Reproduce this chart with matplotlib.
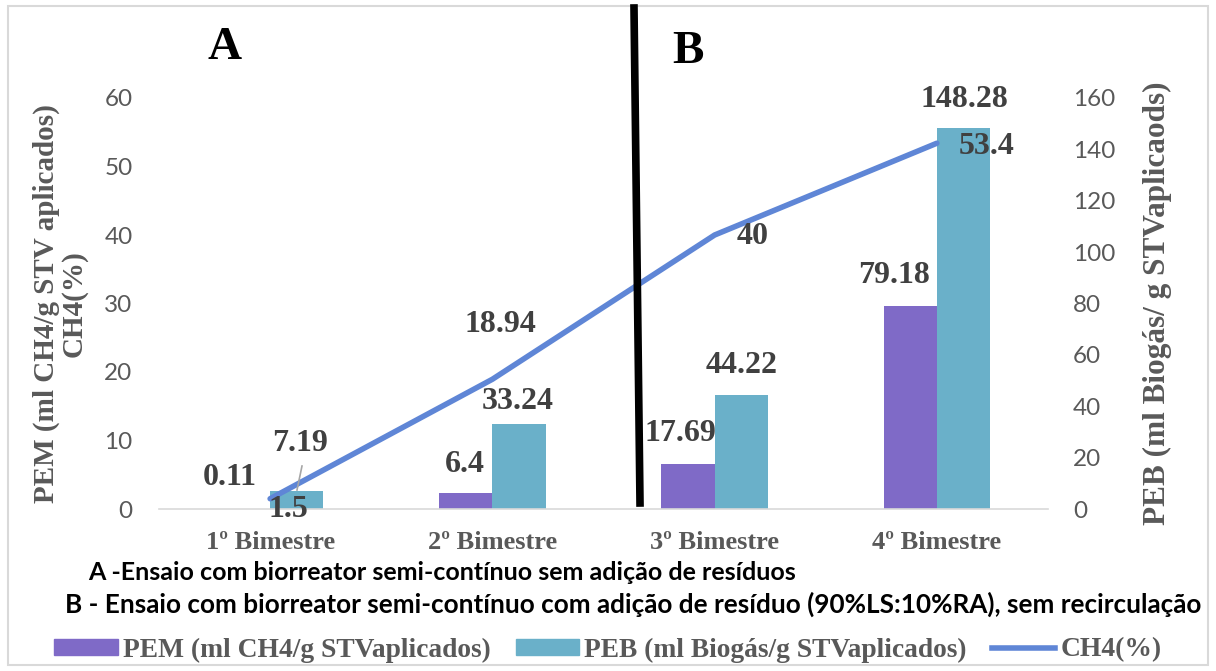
import matplotlib.pyplot as plt
from matplotlib.patches import Rectangle
from matplotlib.lines import Line2D

# --- data --- #
bimestres = ['1º Bimestre', '2º Bimestre', '3º Bimestre', '4º Bimestre']
pem = [0.11, 6.4, 17.69, 79.18]        # ml CH4/g STV aplicados (right axis)
peb = [7.19, 33.24, 44.22, 148.28]     # ml Biogás/g STV aplicados (right axis)
ch4 = [1.5, 18.94, 40, 53.4]           # CH4 (%) (left axis)

# label offsets in pixels (dx, dy)
pem_off = [(-14, 31), (-1, 28), (-8, 30), (-16, 30)]
peb_off = [(3, 47), (-1, 22), (0, 30), (1, 29)]
ch4_off = [(18, -11), (8, 55), (38, -1), (50, -3)]

purple = '#7F6AC7'
teal = '#6AB0C9'
blue = '#5F86D6'
dark = '#404040'
gray = '#595959'
serif = 'Liberation Serif'
sans = 'Lato'

fig = plt.figure(figsize=(12.16, 6.71), dpi=100)
ax = fig.add_axes([159 / 1216, 1 - 509 / 671, (1048 - 159) / 1216, (509 - 98) / 671])
ax2 = ax.twinx()

x = list(range(len(bimestres)))
w = 0.24
ax2.bar([i - w / 2 for i in x], pem, w, color=purple, label='PEM (ml CH4/g STVaplicados)')
ax2.bar([i + w / 2 for i in x], peb, w, color=teal, label='PEB (ml Biogás/g STVaplicados)')
ax.plot(x, ch4, color=blue, lw=4, solid_capstyle='round', label='CH4(%)', zorder=5)
ax.set_zorder(ax2.get_zorder() + 1)
ax.patch.set_visible(False)

ax.set_xlim(-0.5, 3.5)
ax.set_ylim(0, 60)
ax2.set_ylim(0, 160)
ax.set_yticks(range(0, 61, 10))
ax2.set_yticks(range(0, 161, 20))
ax.set_xticks(x)
ax.set_xticklabels(bimestres, fontfamily=serif, fontweight='bold', fontsize=19, color=gray)

for a in (ax, ax2):
    for s in a.spines.values():
        s.set_visible(False)
    a.tick_params(length=0)
    a.tick_params(axis='y', labelsize=17.5, labelcolor=gray)
    for lab in a.get_yticklabels():
        lab.set_fontfamily(sans)
ax.spines['bottom'].set_visible(True)
ax.spines['bottom'].set_color('#D9D9D9')
ax.spines['bottom'].set_linewidth(1.2)
ax.tick_params(axis='y', pad=19)
ax2.tick_params(axis='y', pad=18)
ax.tick_params(axis='x', pad=16)

ax.set_ylabel('PEM (ml CH4/g STV aplicados)\nCH4(%)', fontfamily=serif, fontweight='bold',
              fontsize=21, color=gray, linespacing=1.0, labelpad=12)
ax2.set_ylabel('PEB (ml Biogás/ g STVaplicaods)', fontfamily=serif, fontweight='bold',
               fontsize=22.5, color=gray, rotation=90, labelpad=20)

lab_kw = dict(textcoords='offset pixels', ha='center', va='center', fontfamily=serif,
              fontweight='bold', fontsize=23, color=dark, annotation_clip=False)
for i in x:
    ax2.annotate(f'{pem[i]:g}', (i - w / 2, pem[i]), xytext=pem_off[i], **lab_kw)
    ax2.annotate(f'{peb[i]:g}', (i + w / 2, peb[i]), xytext=peb_off[i], **lab_kw)
    ax.annotate(f'{ch4[i]:g}', (i, ch4[i]), xytext=ch4_off[i], zorder=6, **lab_kw)

# leader line of the 7.19 label
fig.add_artist(Line2D([302 / 1216, 297 / 1216], [1 - 466 / 671, 1 - 490 / 671],
                      color='#A6A6A6', lw=1.2))

# separator between A and B
fig.add_artist(Line2D([634 / 1216, 640 / 1216], [1 - 8 / 671, 1 - 503 / 671],
                      color='black', lw=5.5))
fig.text(225 / 1216, 1 - 48 / 671, 'A', ha='center', va='center', fontfamily=serif,
         fontweight='bold', fontsize=34, color='black')
fig.text(688 / 1216, 1 - 52 / 671, 'B', ha='center', va='center', fontfamily=serif,
         fontweight='bold', fontsize=34, color='black')

fig.text(88 / 1216, 1 - 572 / 671, 'A -Ensaio com biorreator semi-contínuo sem adição de resíduos',
         ha='left', va='center', fontfamily=sans, fontweight='bold', fontsize=18, color='black')
fig.text(65 / 1216, 1 - 604 / 671,
         'B - Ensaio com biorreator semi-contínuo com adição de resíduo (90%LS:10%RA), sem recirculação',
         ha='left', va='center', fontfamily=sans, fontweight='bold', fontsize=18.8, color='black')

handles = [Rectangle((0, 0), 1, 1, color=purple), Rectangle((0, 0), 1, 1, color=teal),
           Line2D([], [], color=blue, lw=4)]
labels = ['PEM (ml CH4/g STVaplicados)', 'PEB (ml Biogás/g STVaplicados)', 'CH4(%)']
fig.legend(handles, labels, loc='center', bbox_to_anchor=(0.5, 1 - 650 / 671), ncol=3,
           frameon=False, handlelength=2.3, handleheight=0.5, columnspacing=0.9,
           handletextpad=0.2, prop={'family': serif, 'weight': 'bold', 'size': 19.8},
           labelcolor=gray)

# outer border
fig.add_artist(Rectangle((8 / 1216, 1 - 665 / 671), 1200 / 1216, 659 / 671,
                         fill=False, edgecolor='#D9D9D9', lw=1.5))

fig.savefig('out.png', dpi=100)
